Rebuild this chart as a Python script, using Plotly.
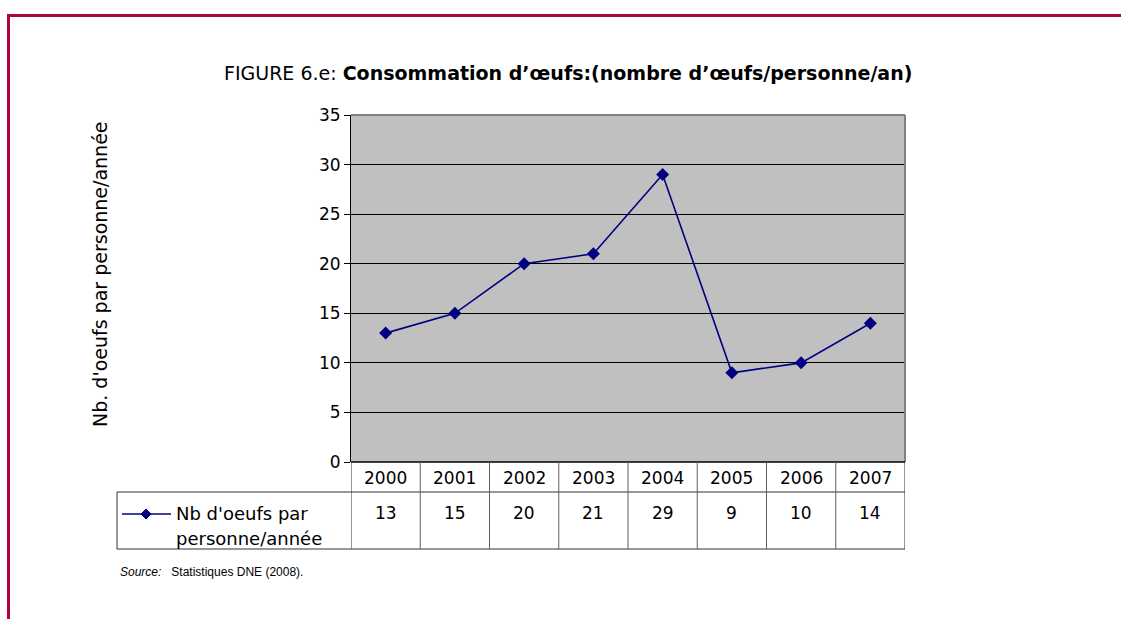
import plotly.graph_objects as go

# Egg consumption per person per year
years = ["2000", "2001", "2002", "2003", "2004", "2005", "2006", "2007"]
eggs = [13, 15, 20, 21, 29, 9, 10, 14]
series_name = ["Nb d'oeufs par", "personne/année"]
y_ticks = [0, 5, 10, 15, 20, 25, 30, 35]

W, H = 1121, 619
PL, PR, PT, PB = 351, 905, 115, 462  # plot area in pixels


def px(x):
    # page pixel -> paper x (paper spans the plot area)
    return (x - PL) / (PR - PL)


def py(y):
    # page pixel -> paper y
    return (PB - y) / (PB - PT)


NAVY = "#000080"
FONT = "DejaVu Sans"
TXT = 17
idx = list(range(len(years)))

fig = go.Figure()
fig.add_trace(go.Scatter(
    x=idx, y=eggs, mode="lines+markers",
    line=dict(color=NAVY, width=1.6),
    marker=dict(symbol="diamond", size=10, color=NAVY),
    showlegend=False, hoverinfo="skip",
))

shapes = []
annotations = []

# outer red frame (top and left edges)
RED = "#B0043C"
shapes.append(dict(type="line", xref="paper", yref="paper", x0=px(7), x1=px(W + 2),
                   y0=py(15.5), y1=py(15.5), line=dict(color=RED, width=3)))
shapes.append(dict(type="line", xref="paper", yref="paper", x0=px(8.5), x1=px(8.5),
                   y0=py(14), y1=py(H + 2), line=dict(color=RED, width=3)))

# grey plot border on top and right
shapes.append(dict(type="line", xref="paper", yref="paper", x0=0, x1=1,
                   y0=1, y1=1, line=dict(color="#808080", width=2)))
shapes.append(dict(type="line", xref="paper", yref="paper", x0=1, x1=1,
                   y0=0, y1=1, line=dict(color="#808080", width=2)))

# data table under the chart
ROW1, ROW2, ROW3 = 462, 492, 549
LEG_L = 117
line_k = dict(color="#303030", width=1)
shapes.append(dict(type="line", xref="paper", yref="paper", x0=0, x1=1,
                   y0=py(ROW1), y1=py(ROW1), line=dict(color="black", width=1.5)))
shapes.append(dict(type="line", xref="paper", yref="paper", x0=px(LEG_L), x1=1,
                   y0=py(ROW2), y1=py(ROW2), line=line_k))
shapes.append(dict(type="line", xref="paper", yref="paper", x0=px(LEG_L), x1=1,
                   y0=py(ROW3), y1=py(ROW3), line=line_k))
shapes.append(dict(type="line", xref="paper", yref="paper", x0=px(LEG_L), x1=px(LEG_L),
                   y0=py(ROW2), y1=py(ROW3), line=line_k))
for i in range(len(years) + 1):
    xb = i - 0.5
    shapes.append(dict(type="line", xref="x", yref="paper", x0=xb, x1=xb,
                       y0=py(ROW1), y1=py(ROW3),
                       line=dict(color="#303030" if i in (0, len(years)) else "#606060", width=1)))

for i, (yr, v) in enumerate(zip(years, eggs)):
    annotations.append(dict(x=i, y=py(478), xref="x", yref="paper", text=yr,
                            showarrow=False, font=dict(family=FONT, size=TXT, color="black"),
                            xanchor="center", yanchor="middle"))
    annotations.append(dict(x=i, y=py(513), xref="x", yref="paper", text=str(v),
                            showarrow=False, font=dict(family=FONT, size=TXT, color="black"),
                            xanchor="center", yanchor="middle"))

# legend key inside the table
shapes.append(dict(type="line", xref="paper", yref="paper", x0=px(122), x1=px(171),
                   y0=py(514), y1=py(514), line=dict(color=NAVY, width=1.6)))
shapes.append(dict(type="path", xref="paper", yref="paper",
                   path=f"M {px(146)} {py(509)} L {px(151)} {py(514)} L {px(146)} {py(519)} L {px(141)} {py(514)} Z",
                   fillcolor=NAVY, line=dict(color=NAVY, width=1)))
annotations.append(dict(x=px(174), y=py(513), xref="paper", yref="paper", text=series_name[0],
                        showarrow=False, font=dict(family=FONT, size=18, color="black"),
                        xanchor="left", yanchor="middle"))
annotations.append(dict(x=px(174), y=py(538), xref="paper", yref="paper", text=series_name[1],
                        showarrow=False, font=dict(family=FONT, size=18, color="black"),
                        xanchor="left", yanchor="middle"))

# title: regular prefix followed by bold heading
annotations.append(dict(x=px(568), y=py(73), xref="paper", yref="paper",
                        text="FIGURE 6.e: <b>Consommation d’œufs:(nombre d’œufs/personne/an)</b>",
                        showarrow=False, font=dict(family=FONT, size=19, color="black"),
                        xanchor="center", yanchor="middle"))

# y-axis title
annotations.append(dict(x=px(100), y=py(274), xref="paper", yref="paper",
                        text="Nb. d'oeufs par personne/année", textangle=-90,
                        showarrow=False, font=dict(family=FONT, size=19, color="black"),
                        xanchor="center", yanchor="middle"))

# source note
annotations.append(dict(x=px(118), y=py(572), xref="paper", yref="paper",
                        text="<i>Source:</i>   Statistiques DNE (2008).",
                        showarrow=False, font=dict(family="Liberation Sans", size=12, color="black"),
                        xanchor="left", yanchor="middle"))

fig.update_layout(
    width=W, height=H, autosize=False,
    margin=dict(l=PL, r=W - PR, t=PT, b=H - PB, pad=0, autoexpand=False),
    paper_bgcolor="white", plot_bgcolor="#C0C0C0",
    shapes=shapes, annotations=annotations,
    font=dict(family=FONT, size=TXT, color="black"),
    xaxis=dict(range=[-0.5, len(years) - 0.5], showticklabels=False, showgrid=False,
               zeroline=False, showline=False, ticks="", fixedrange=True),
    yaxis=dict(range=[0, 35], tickvals=y_ticks, showgrid=True, gridcolor="black", gridwidth=1,
               zeroline=False, showline=True, linecolor="black", linewidth=1,
               ticks="outside", ticklen=6, tickcolor="black",
               tickfont=dict(family=FONT, size=TXT, color="black"), fixedrange=True),
)

fig.write_html("out.html")
